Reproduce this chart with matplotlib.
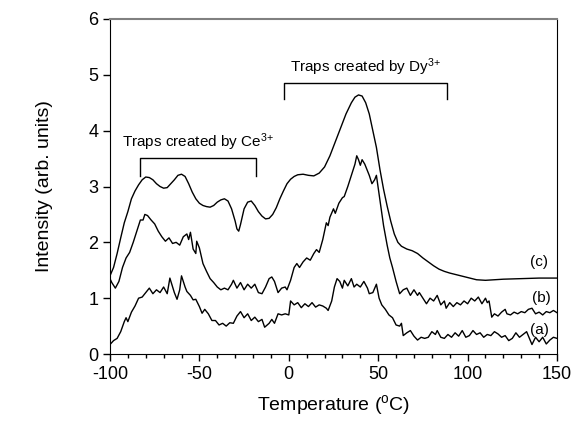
import numpy as np
from matplotlib import pyplot as plt
from matplotlib.ticker import MultipleLocator

plt.rcParams['font.family'] = ['Liberation Sans', 'DejaVu Sans']
plt.rcParams['axes.unicode_minus'] = False
plt.rcParams['mathtext.fontset'] = 'custom'
plt.rcParams['mathtext.rm'] = 'Liberation Sans'
plt.rcParams['mathtext.it'] = 'Liberation Sans:italic'
plt.rcParams['mathtext.bf'] = 'Liberation Sans:bold'

# Curve (a)
temp_a = [-100, -98, -96, -94, -92, -91, -90, -88, -86, -84, -82, -80, -78, -76, -74,
          -72, -70, -68, -66.5, -64, -62.5, -61, -60, -58, -57, -55, -53.5, -52, -50,
          -48.5, -47, -45, -43, -41, -39, -37, -35, -33, -31, -29, -27, -25, -23, -21,
          -19, -17, -15, -13.5, -11, -9.5, -8, -6, -4, -2, 0, 1, 3, 5, 7, 9, 11, 13, 15,
          17, 19, 21, 22, 24, 25.5, 27, 28.5, 30, 31, 33, 35, 36.5, 38, 40, 42, 44, 45,
          47, 49, 50.5, 52, 54, 56, 58, 60, 62, 63, 64, 66, 68, 70, 72, 74, 76, 78, 80,
          82, 83, 85, 87, 89, 91, 93, 95, 97, 99, 101, 103, 105, 107, 109, 111, 113, 115,
          117, 119, 121, 123, 125, 127, 129, 131, 133, 135, 136, 138, 140, 142, 144, 146,
          148, 150]
int_a = [0.17, 0.24, 0.28, 0.40, 0.58, 0.65, 0.58, 0.75, 0.86, 1.0, 1.02, 1.1, 1.18, 1.08,
         1.15, 1.1, 1.2, 1.08, 1.36, 1.1, 0.98, 1.15, 1.4, 1.2, 1.12, 1.05, 0.97, 0.98, 0.85,
         0.73, 0.8, 0.72, 0.6, 0.6, 0.52, 0.55, 0.5, 0.56, 0.55, 0.68, 0.76, 0.65, 0.72, 0.6,
         0.66, 0.58, 0.62, 0.48, 0.55, 0.62, 0.55, 0.72, 0.7, 0.72, 0.7, 0.95, 0.88, 0.92,
         0.83, 0.9, 0.85, 0.92, 0.84, 0.88, 0.86, 0.82, 0.78, 0.95, 1.2, 1.35, 1.3, 1.18,
         1.32, 1.22, 1.35, 1.2, 1.25, 1.2, 1.3, 1.18, 1.08, 1.1, 1.25, 1.0, 0.88, 0.8, 0.7,
         0.65, 0.52, 0.5, 0.55, 0.33, 0.38, 0.42, 0.32, 0.25, 0.3, 0.28, 0.3, 0.4, 0.35,
         0.42, 0.3, 0.28, 0.35, 0.3, 0.38, 0.32, 0.42, 0.3, 0.33, 0.42, 0.35, 0.38, 0.3,
         0.35, 0.33, 0.4, 0.36, 0.3, 0.33, 0.24, 0.28, 0.38, 0.3, 0.35, 0.4, 0.25, 0.17,
         0.3, 0.22, 0.3, 0.18, 0.25, 0.3, 0.28]

# Curve (b)
temp_b = [-100, -99, -97, -95, -93, -91, -89, -87, -85, -83, -81.5, -80.5, -79, -77, -75,
          -73, -71, -69, -67, -65, -63, -61, -59, -57, -56, -55, -53.5, -52, -51.5, -50,
          -48, -46, -44, -42, -40, -38, -36, -34, -32, -31, -29, -27, -25, -23, -21, -19,
          -17, -15, -13, -11, -9.5, -8, -6, -4, -2, -1, 1, 3, 4.5, 6, 8, 10, 12, 14, 15.5,
          17, 19, 21, 22, 23, 25, 26, 28, 30, 31, 33, 35, 37, 38, 39, 40, 41, 42.5, 44, 45,
          46.5, 48, 49, 50, 51, 53, 55, 56.5, 58, 60, 62, 64, 66, 68, 70, 72, 73, 75, 77,
          79, 81, 83, 85, 87, 88, 90, 92, 94, 96, 98, 100, 102, 104, 106, 108, 110, 111,
          112, 113.5, 115, 117, 119, 121, 122, 124, 126, 128, 130, 132, 134, 136, 138,
          140, 142, 144, 146, 148, 150]
int_b = [1.35, 1.28, 1.18, 1.3, 1.55, 1.72, 1.82, 2.0, 2.2, 2.4, 2.4, 2.5, 2.48, 2.4, 2.33,
         2.2, 2.1, 2.02, 2.08, 1.98, 2.0, 1.95, 2.1, 2.15, 2.05, 2.18, 1.88, 1.8, 2.02, 1.9,
         1.62, 1.48, 1.35, 1.28, 1.2, 1.15, 1.18, 1.15, 1.25, 1.32, 1.18, 1.28, 1.15, 1.25,
         1.18, 1.25, 1.1, 1.08, 1.2, 1.35, 1.38, 1.3, 1.1, 1.18, 1.2, 1.15, 1.32, 1.55,
         1.62, 1.55, 1.65, 1.72, 1.68, 1.8, 1.87, 1.82, 2.05, 2.35, 2.3, 2.45, 2.6, 2.52,
         2.7, 2.8, 2.82, 3.0, 3.2, 3.4, 3.55, 3.48, 3.38, 3.48, 3.4, 3.28, 3.2, 3.05, 3.12,
         3.2, 2.98, 2.75, 2.3, 1.95, 1.72, 1.55, 1.3, 1.08, 1.15, 1.18, 1.05, 1.15, 1.05,
         1.1, 1.0, 0.9, 1.0, 0.95, 1.05, 0.88, 0.95, 0.82, 0.92, 0.85, 0.92, 0.88, 0.95,
         0.9, 1.0, 0.95, 1.02, 0.9, 1.0, 0.92, 0.95, 0.66, 0.72, 0.68, 0.75, 0.8, 0.72,
         0.7, 0.75, 0.72, 0.76, 0.74, 0.8, 0.82, 0.72, 0.75, 0.7, 0.76, 0.74, 0.78, 0.74]

# Curve (c)
temp_c = [-100, -98, -96, -94, -92, -90, -88, -86, -84, -82, -80, -78, -76, -74, -72, -70,
          -68, -66, -64, -62, -60, -58, -56, -54, -52, -50, -48, -46, -44, -42, -40, -38,
          -36, -34, -32, -30, -29, -28, -27, -25, -23, -21, -19, -17, -15, -13, -11, -9,
          -7, -5, -3, -1, 1, 3, 5, 8, 11, 14, 17, 20, 23, 26, 29, 32, 35, 37, 39, 41, 43,
          45, 47, 49, 51, 53, 55, 57, 59, 61, 63, 66, 69, 72, 75, 78, 81, 84, 87, 90, 95,
          100, 105, 110, 115, 120, 130, 140, 150]
int_c = [1.4, 1.55, 1.8, 2.08, 2.35, 2.55, 2.78, 2.92, 3.03, 3.12, 3.17, 3.16, 3.12, 3.05,
         3.0, 2.97, 2.98, 3.05, 3.12, 3.2, 3.22, 3.18, 3.05, 2.9, 2.78, 2.7, 2.66, 2.64,
         2.63, 2.66, 2.72, 2.76, 2.78, 2.74, 2.6, 2.38, 2.24, 2.2, 2.32, 2.6, 2.72, 2.74,
         2.66, 2.55, 2.47, 2.42, 2.43, 2.5, 2.62, 2.78, 2.92, 3.05, 3.13, 3.18, 3.21, 3.22,
         3.2, 3.19, 3.24, 3.35, 3.55, 3.8, 4.05, 4.3, 4.5, 4.6, 4.64, 4.62, 4.5, 4.3, 4.0,
         3.7, 3.3, 2.95, 2.65, 2.38, 2.15, 2.0, 1.93, 1.88, 1.85, 1.8, 1.72, 1.65, 1.58,
         1.52, 1.48, 1.45, 1.41, 1.37, 1.33, 1.32, 1.33, 1.34, 1.35, 1.36, 1.36]

fig = plt.figure(figsize=(5.74, 4.22), dpi=100)
ax = fig.add_axes([0.1916, 0.1611, 0.7788, 0.7939])

for t, y in [(temp_a, int_a), (temp_b, int_b), (temp_c, int_c)]:
    ax.plot(t, y, color='black', lw=1.0)

# Curve labels
ax.text(140, 1.65, '(c)', fontsize=11, ha='center', va='center')
ax.text(141, 1.0, '(b)', fontsize=11, ha='center', va='center')
ax.text(140, 0.43, '(a)', fontsize=11, ha='center', va='center')

# Brackets for trap regions
ax.plot([-83.2, -83.2, -18.4, -18.4], [3.19, 3.51, 3.51, 3.19], color='black', lw=1.0)
ax.text(-50.8, 3.6, 'Traps created by Ce$^{\\mathrm{3\\!+}}$', fontsize=11,
        ha='center', va='bottom')
ax.plot([-2.7, -2.7, 88.4, 88.4], [4.57, 4.86, 4.86, 4.57], color='black', lw=1.0)
ax.text(42.8, 4.95, 'Traps created by Dy$^{\\mathrm{3\\!+}}$', fontsize=11,
        ha='center', va='bottom')

ax.set_xlim(-100, 150)
ax.set_ylim(0, 6)
ax.xaxis.set_major_locator(MultipleLocator(50))
ax.xaxis.set_minor_locator(MultipleLocator(10))
ax.yaxis.set_major_locator(MultipleLocator(1))
ax.tick_params(axis='both', which='major', labelsize=13, length=5, width=1, direction='out')
ax.tick_params(axis='x', which='minor', length=3, width=1, direction='out')
ax.spines['top'].set_color('gray')
ax.spines['top'].set_linewidth(1.5)

ax.set_xlabel('Temperature ($^{\\mathrm{o}}$C)', fontsize=14, labelpad=7)
ax.set_ylabel('Intensity (arb. units)', fontsize=14, labelpad=25)

fig.savefig('out.png', dpi=100)
